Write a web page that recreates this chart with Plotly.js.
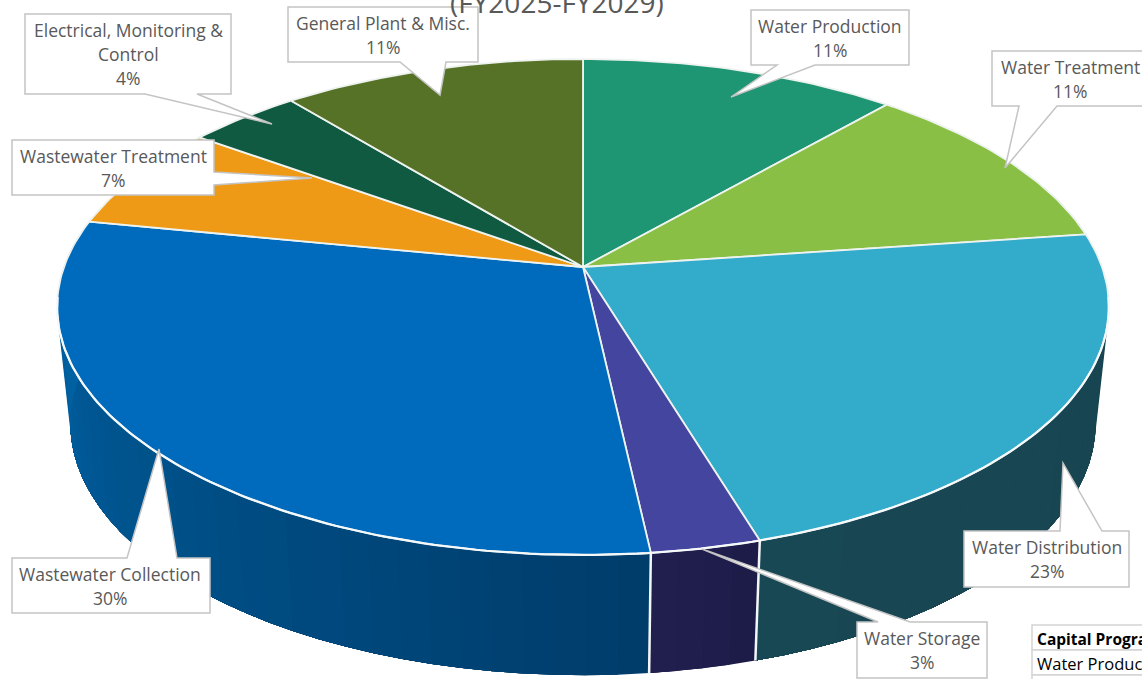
<!DOCTYPE html>
<html>
<head>
<meta charset="utf-8">
<script src="https://cdn.plot.ly/plotly-3.0.1.min.js"></script>
<style>html,body{margin:0;padding:0;background:#fff;overflow:hidden}</style>
</head>
<body>
<div id="chart" style="width:1142px;height:679px"></div>
<script>
// Capital program share by category, clockwise from twelve o'clock.
const categories = ["Water Production", "Water Treatment", "Water Distribution", "Water Storage",
  "Wastewater Collection", "Wastewater Treatment", "Electrical, Monitoring &<br>Control", "General Plant & Misc."];
const shares = [11.4, 11.4, 22.55, 2.9, 29.85, 6.9, 4.1, 10.9];
const topColors = ["#1e9573", "#8abf45", "#33abcb", "#44459f", "#006bbd", "#ef9a17", "#115a42", "#567227"];
// Side wall colour at the start and end of each slice's sweep.
const wallStart = ["#156a52", "#5f8730", "#17434f", "#1c1c48", "#003c6a", "#a86c10", "#0c3f2e", "#3c501b"];
const wallEnd   = ["#156a52", "#5f8730", "#184854", "#211f4f", "#0066aa", "#a86c10", "#0c3f2e", "#3c501b"];
const chartTitle = "(FY2025-FY2029)";
const tableRows = ["Capital Program", "Water Production"];

// Callout geometry for each category: box [x0, y0, x1, y1] and pointer [base, tip, base].
const calloutBoxes = [[751,10,909,65],[992,51,1148,106],[964,531,1129,587],[857,622,987,678],
  [12,558,210,613],[12,140,214,195],[25,14,231,94],[288,7,478,62]];
const calloutPointers = [
  [[777,65],[731,97],[815,65]], [[1019,106],[1005,168],[1057,106]], [[1060,531],[1063,463],[1102,531]],
  [[878,622],[702,549],[910,622]], [[127,558],[159,449],[177,558]], [[214,172],[312,178],[214,185]],
  [[145,94],[272,124],[197,94]], [[400,62],[440,95],[446,62]]];
const labelCentres = [830, 1070, 1047, 922, 110, 113, 128, 383];

// Perspective projection of the pie's rim: the far side of the disc is foreshortened.
const CX = 583, TOP_Y = 267, TOP_A = 519, TOP_B = 241.5, PERSP = 0.1613;
const BOT_Y = 382.5, BOT_A = 506, BOT_B = 245.5;
const deg = Math.PI / 180;
function rim(theta, a, b, apexY) {
  const u = Math.sin(theta * deg), v = Math.cos(theta * deg), w = 1 + PERSP * v;
  return [CX + a * u / w, apexY - b * v / w];
}
const topRim = t => rim(t, TOP_A, TOP_B, TOP_Y);
const botRim = t => rim(t, BOT_A, BOT_B, BOT_Y);

function mix(c0, c1, f) {
  const p = (c, i) => parseInt(c.slice(1 + 2 * i, 3 + 2 * i), 16);
  const ch = i => Math.round(p(c0, i) + (p(c1, i) - p(c0, i)) * f);
  return `rgb(${ch(0)},${ch(1)},${ch(2)})`;
}
function sweep(from, to, step) {
  const n = Math.max(1, Math.ceil((to - from) / step)), out = [];
  for (let i = 0; i <= n; i++) out.push(from + (to - from) * i / n);
  return out;
}

// Cumulative slice boundaries, in degrees.
const total = shares.reduce((s, v) => s + v, 0);
const edges = [0];
shares.forEach(v => edges.push(edges[edges.length - 1] + v / total * 360));

const traces = [];
const polygon = (pts, fill, line, width, name) => traces.push({
  type: "scatter", mode: "lines", x: pts.map(p => p[0]), y: pts.map(p => p[1]), fill: "toself",
  fillcolor: fill, line: {color: line, width: width}, hoverinfo: "skip", showlegend: false, name: name
});
const stroke = (pts, color, width) => traces.push({
  type: "scatter", mode: "lines", x: pts.map(p => p[0]), y: pts.map(p => p[1]),
  line: {color: color, width: width}, hoverinfo: "skip", showlegend: false
});

// Side wall, built from narrow shaded strips; each strip runs from its start angle
// to the end of the slice so later strips overlap it and no seam shows between them.
categories.forEach((name, i) => {
  const angles = sweep(edges[i], edges[i + 1], 3);
  for (let k = 0; k < angles.length - 1; k++) {
    const a = angles[k], b = edges[i + 1];
    const f = (k + 0.5) / (angles.length - 1);
    const c = mix(wallStart[i], wallEnd[i], f);
    const arc = sweep(a, b, 3);
    const pts = arc.map(topRim).concat(arc.slice().reverse().map(botRim));
    pts.push(topRim(a));
    polygon(pts, c, "rgba(0,0,0,0)", 0, name);
  }
});
// Seams on the wall where slices meet.
edges.forEach(t => {
  if (t > 90 && t < 270) stroke([topRim(t), botRim(t)], "#f4f7f8", 2.5);
});
// Top face of each slice.
categories.forEach((name, i) => {
  const pts = [[CX, TOP_Y]];
  sweep(edges[i], edges[i + 1], 1).forEach(t => pts.push(topRim(t)));
  pts.push([CX, TOP_Y]);
  polygon(pts, topColors[i], "#eef3f0", 1.8, name);
});
// Bright edge where the top face meets the wall.
stroke(sweep(97, 263, 1).map(topRim), "#f6f9fa", 2.2);

// Callouts: one closed outline per label, notched for its pointer.
const bottomOf = (b, p) => Math.abs(p[0][1] - b[3]) < 2;
const topOf = (b, p) => Math.abs(p[0][1] - b[1]) < 2;
function calloutPath(b, p) {
  const [x0, y0, x1, y1] = b;
  let pts;
  if (topOf(b, p)) pts = [[x0,y0], p[0], p[1], p[2], [x1,y0], [x1,y1], [x0,y1]];
  else if (bottomOf(b, p)) pts = [[x0,y0], [x1,y0], [x1,y1], p[2], p[1], p[0], [x0,y1]];
  else pts = [[x0,y0], [x1,y0], p[0], p[1], p[2], [x1,y1], [x0,y1]];
  return "M" + pts.map(q => q.join(",")).join("L") + "Z";
}
const shapes = calloutBoxes.map((b, i) => ({
  type: "path", xref: "x", yref: "y", layer: "above", path: calloutPath(b, calloutPointers[i]),
  fillcolor: "#ffffff", line: {color: "#c4c4c4", width: 1.5}
}));

// Corner of the summary table that sits under the chart.
[[1032,625,1150,650],[1032,650,1150,675],[1032,675,1150,690]].forEach(r => shapes.push({
  type: "rect", xref: "x", yref: "y", layer: "above", x0: r[0], y0: r[1], x1: r[2], y1: r[3],
  fillcolor: "#ffffff", line: {color: "#d4d4d4", width: 1.5}
}));

const annotations = [];
const text = (t, x, y, size, color, anchor, bold) => annotations.push({
  xref: "x", yref: "y", x: x, y: y, text: bold ? `<b>${t}</b>` : t, showarrow: false,
  xanchor: anchor, yanchor: "middle", align: anchor,
  font: {family: "Open Sans, sans-serif", size: size, color: color}
});
categories.forEach((name, i) => {
  const lines = name.split("<br>").concat([Math.round(shares[i] / total * 100) + "%"]);
  const midY = (calloutBoxes[i][1] + calloutBoxes[i][3]) / 2;
  lines.forEach((ln, k) => text(ln, labelCentres[i], midY + (k - (lines.length - 1) / 2) * 24, 17.5, "#595959", "center", false));
});
// The heading sits partly above the top of the page.
annotations.push({
  xref: "x", yref: "paper", x: 557, y: 1, yshift: -2, text: chartTitle, showarrow: false,
  xanchor: "center", yanchor: "middle", font: {family: "Open Sans, sans-serif", size: 28, color: "#595959"}
});
text(tableRows[0], 1035, 639, 15.5, "#000000", "left", true);
text(tableRows[1], 1035, 663, 16.5, "#000000", "left", false);

const layout = {
  width: 1142, height: 679, margin: {l: 0, r: 0, t: 0, b: 0},
  paper_bgcolor: "#ffffff", plot_bgcolor: "#ffffff", showlegend: false,
  xaxis: {range: [0, 1142], visible: false, fixedrange: true},
  yaxis: {range: [679, 0], visible: false, fixedrange: true},
  shapes: shapes, annotations: annotations
};
Plotly.newPlot("chart", traces, layout, {staticPlot: true, displayModeBar: false});
</script>
</body>
</html>
